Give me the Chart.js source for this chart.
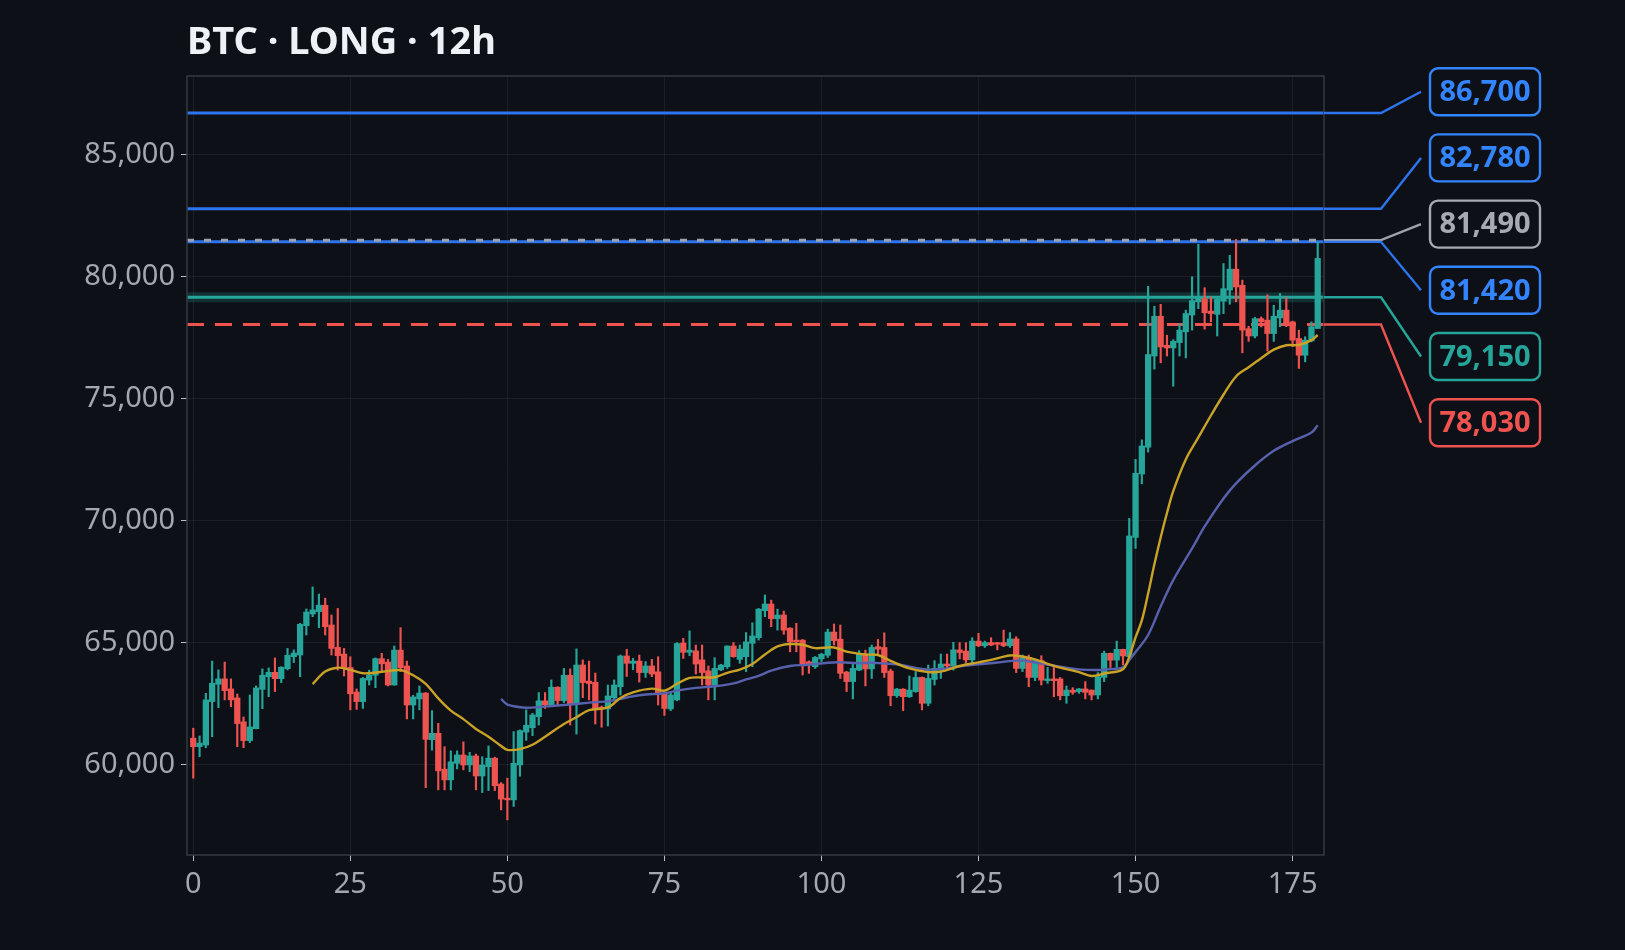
<!DOCTYPE html>
<html>
<head>
<meta charset="utf-8">
<title>BTC · LONG · 12h</title>
<script src="https://cdn.jsdelivr.net/npm/chart.js@4.4.1/dist/chart.umd.min.js"></script>
<style>
  html, body { margin: 0; padding: 0; background: #0d1017; }
  #wrap { position: relative; width: 1625px; height: 950px; }
</style>
</head>
<body>
<div id="wrap"><canvas id="chart"></canvas></div>
<script>
/**
 * BTC 12h long setup — candles, EMA 20/50 and trade levels
 * Candles are floating bars (body + wick), levels drawn by a small plugin
 */

// ============================================
// DATA
// ============================================
var opens = [
  61070,60720,60790,62570,63280,63500,63090,62720,61740,60970,
  61460,63070,63590,63770,63510,63920,64410,64480,65680,66160,
  66260,66520,65710,64790,64520,63970,62960,62570,63450,63650,
  64330,64190,63250,64680,64030,62430,62680,62920,61010,61270,
  59800,59360,60040,60380,59970,60340,59520,59900,60250,59190,
  58610,58540,59970,61320,61500,61950,62600,62430,63160,62610,
  63650,62460,64070,63410,63360,62340,62270,62730,63180,64440,
  64140,64230,63760,64030,63790,62910,62270,62640,64970,64590,
  64650,64280,63830,63250,63870,64000,64850,64300,64410,64960,
  65190,66300,66570,65970,66120,65580,65090,65090,64200,64000,
  64320,64470,65420,65130,63780,63390,63860,64510,63910,64820,
  64790,63820,62810,63080,62770,62980,63560,62500,63480,63860,
  64110,64030,64690,64640,64280,65050,64860,64990,64990,64990,
  64860,65140,63930,64380,63560,64250,63430,63500,63500,62810,
  63040,62980,63090,63040,62840,63560,64550,64270,64710,64410,
  69300,71900,73000,76740,78370,77180,77070,77290,77730,78420,
  78960,79090,78580,78450,78990,79440,80300,79640,77860,77560,
  78270,78210,77660,78300,78620,78140,77460,76770,77360,77870
];
var highs = [
  61480,61160,62910,64230,63870,64190,63500,62880,61940,62840,
  63210,63910,63950,64360,64000,64750,64690,65780,66370,67270,
  66980,66810,66120,66390,64750,64410,63090,63560,63860,64360,
  64550,64300,64850,65600,64230,62830,63210,62940,62200,61680,
  60720,60550,60550,60920,60490,60420,60310,60750,60290,59250,
  59430,61340,61410,62230,62090,62940,62940,63460,63180,63930,
  63910,64730,64280,64230,63740,62390,63250,63460,64480,64710,
  64340,64480,64210,64300,64410,62960,62910,64990,65160,65470,
  64890,64890,64030,64370,64100,64850,64990,64890,65400,65800,
  66390,66940,66730,66360,66280,65600,65780,65120,64240,64420,
  64550,65540,65750,65710,63810,64140,64660,64680,64890,65120,
  65390,63900,63110,63100,63620,63800,63580,64070,64250,64520,
  64520,65000,64990,64990,65190,65370,65050,65190,65000,65500,
  65400,65230,64480,64480,64250,64450,63970,63970,63560,63210,
  63140,63110,63390,63050,63760,64640,64560,65050,64720,70080,
  72500,73300,79600,78780,78860,77590,77410,78070,78620,79990,
  81320,79540,79160,79100,80530,80870,81520,79850,77960,78320,
  78340,79250,78820,79300,79140,78170,77800,77530,78140,81420
];
var lows = [
  59430,60310,60680,61130,62320,62640,62360,60720,60680,60890,
  61450,62280,62770,62980,63350,63870,64170,63590,65300,66050,
  65600,65300,64480,63860,63620,62230,62250,62290,63250,63140,
  63800,63210,63240,63800,61860,61860,62230,59040,60580,58950,
  58950,58950,59810,59770,59700,58950,58840,58920,58920,58130,
  57720,58270,59510,60980,61170,61610,62290,62400,62390,62530,
  61610,61240,62730,62640,61650,61520,61570,62610,62840,63600,
  63880,63370,63560,63590,62430,62000,62200,62600,64340,64450,
  63700,63250,62640,62640,63840,63930,64390,64140,63800,64000,
  65090,66050,65640,65500,65330,64610,64610,63660,63730,63930,
  64210,64380,64890,63520,62980,62680,63840,63210,63520,64520,
  63560,62400,62740,62200,62740,62950,62230,62400,63250,63520,
  63860,63860,64320,64140,64140,64820,64790,64860,64690,64820,
  64790,63760,63800,63180,63430,63250,63320,62770,62640,62500,
  62870,62910,62680,62640,62680,63390,63970,63970,64070,64380,
  68850,71500,72800,76200,76460,76740,75500,76740,76660,77800,
  78680,77840,78140,77560,78480,78860,78960,76870,77340,77480,
  77930,76940,77340,77940,77940,77120,76230,76500,77320,77860
];
var closes = [
  60720,60870,62640,63320,63500,63020,62640,61670,60970,61530,
  63130,63650,63770,63510,63980,64470,64560,65740,66240,66330,
  66520,65640,64750,64450,63930,62890,62570,63520,63660,64330,
  64120,63250,64680,63960,62430,62760,62920,61020,61270,59730,
  59360,60100,60380,59970,60340,59520,59970,60250,59120,58570,
  58540,60040,61380,61600,62020,62600,62430,63160,62610,63650,
  62460,64070,63350,63310,62270,62270,62800,63250,64440,64140,
  64230,63760,64030,63700,62910,62290,62840,64950,64590,64680,
  64110,63760,63250,63930,64070,64850,64410,64720,65020,65260,
  66360,66570,65970,66120,65500,65020,65020,64110,64110,64380,
  64510,65420,65070,63730,63390,63930,64510,63910,64790,64720,
  63760,62810,63080,62770,63040,63560,62500,63520,63930,64110,
  64030,64690,64580,64280,65050,64860,64990,64890,64920,64860,
  65140,63930,64380,63560,64250,63450,63500,63430,62810,63040,
  62950,63090,62950,62840,63590,64550,64270,64710,64440,69360,
  71930,73050,76800,78370,77110,77070,77340,77800,78480,79010,
  79160,78510,78480,79070,79500,80300,79570,77800,77560,78270,
  78140,77660,78370,78620,78070,77390,76770,77390,77940,80740
];

// EMA lines (bar index, price)
var ema20Idx = [19,21,23,25,27,29,31,33,35,37,39,41,43,45,47,49,50,52,54,56,
  59,61,63,66,68,70,73,75,77,79,81,83,85,87,89,91,93,95,97,99,
  102,104,107,109,111,114,117,119,122,125,127,130,132,134,136,138,141,143,145,148,
  149,150,151,152,153,154,155,156,158,160,162,164,166,168,170,172,174,176,178,179];
var ema20Val = [63290,63800,63960,63870,63730,63760,63820,63860,63650,63300,62700,62200,61850,61450,61130,60750,60590,60620,60800,61130,
  61650,61930,62220,62330,62720,62950,63100,63020,63300,63540,63560,63570,63750,63880,64110,64500,64830,64930,64900,64760,
  64790,64620,64500,64480,64240,63930,63780,63800,64030,64180,64280,64460,64420,64300,64120,63960,63780,63620,63720,63900,
  64410,65200,65900,67000,68200,69300,70300,71200,72500,73400,74300,75150,75900,76280,76650,77000,77180,77190,77390,77600];

var ema50Idx = [49,50,53,55,57,60,62,64,66,68,70,72,75,77,80,83,86,88,90,92,
  95,98,101,103,106,108,110,112,115,117,120,122,125,128,130,132,135,138,141,144,
  146,148,149,150,152,154,156,159,161,164,166,169,172,175,178,179];
var ema50Val = [62680,62450,62320,62350,62390,62450,62500,62550,62580,62680,62790,62860,62910,63020,63130,63200,63320,63480,63620,63840,
  64030,64080,64165,64180,64140,64165,64130,64100,63950,63880,63930,64020,64100,64170,64230,64250,64130,64000,63890,63865,
  63900,63970,64270,64600,65300,66470,67550,68850,69750,70900,71520,72250,72850,73250,73600,73900];

// Trade levels, top to bottom
var levelValues = [86700, 82780, 81490, 81420, 79150, 78030];
var levelLabels = ['86,700', '82,780', '81,490', '81,420', '79,150', '78,030'];
var levelKinds  = ['target', 'target', 'mark', 'target', 'entry', 'stop'];

var xTicks = [0, 25, 50, 75, 100, 125, 150, 175];
var yTicks = [60000, 65000, 70000, 75000, 80000, 85000];

var TITLE = 'BTC · LONG · 12h';

// ============================================
// STYLE
// ============================================
var BG = '#0d1017';
var UP = '#26a69a';
var DOWN = '#ef5350';
var FONT = "'Noto Sans', 'Open Sans', sans-serif";

var levelStyle = {
  target: { line: '#2d74ee', text: '#3385ff', width: 3, dash: [] },
  mark:   { line: '#9ea3aa', text: '#a6abb2', width: 3, dash: [7, 10] },
  entry:  { line: '#26a69a', text: '#26a69a', width: 3, dash: [], glow: 'rgba(38, 166, 154, 0.22)' },
  stop:   { line: '#ef5350', text: '#ef5350', width: 3, dash: [17, 11] }
};

// ============================================
// BUILD DATASETS
// ============================================
var bodies = [], wicks = [], colors = [];
for (var i = 0; i < opens.length; i++) {
  bodies.push({ x: i, y: [opens[i], closes[i]] });
  wicks.push({ x: i, y: [lows[i], highs[i]] });
  colors.push(closes[i] >= opens[i] ? UP : DOWN);
}

function toPoints(idx, vals) {
  return idx.map(function (x, k) { return { x: x, y: vals[k] }; });
}

// ============================================
// PLUGIN — title, frame, trade levels + labels
// ============================================
var levelsPlugin = {
  id: 'levels',
  beforeDatasetsDraw: function (chart) {
    var ctx = chart.ctx, area = chart.chartArea, y = chart.scales.y;
    // solid lines first, dashed ones on top
    var order = levelValues.map(function (v, k) { return k; }).sort(function (a, b) {
      return levelStyle[levelKinds[a]].dash.length - levelStyle[levelKinds[b]].dash.length;
    });
    ctx.save();
    order.forEach(function (k) {
      var st = levelStyle[levelKinds[k]];
      var py = y.getPixelForValue(levelValues[k]);
      if (st.glow) {
        ctx.strokeStyle = st.glow;
        ctx.lineWidth = 10;
        ctx.setLineDash([]);
        ctx.beginPath(); ctx.moveTo(area.left, py); ctx.lineTo(area.right, py); ctx.stroke();
      }
      ctx.strokeStyle = st.line;
      ctx.lineWidth = st.width;
      ctx.setLineDash(st.dash);
      ctx.beginPath(); ctx.moveTo(area.left, py); ctx.lineTo(area.right, py); ctx.stroke();
    });
    ctx.restore();
  },
  afterDraw: function (chart) {
    var ctx = chart.ctx, area = chart.chartArea, y = chart.scales.y;
    ctx.save();

    // frame around the plot
    ctx.strokeStyle = '#353a43';
    ctx.lineWidth = 1.5;
    ctx.strokeRect(area.left, area.top, area.right - area.left, area.bottom - area.top);

    // title
    ctx.fillStyle = '#eef1f6';
    ctx.font = 'bold 38px ' + FONT;
    ctx.textBaseline = 'alphabetic';
    ctx.textAlign = 'left';
    ctx.fillText(TITLE, area.left, 54);

    // leaders + label boxes
    var knee = area.right + 57, end = area.right + 97;
    var boxX = area.right + 106, boxW = 110, boxH = 47;
    var firstCy = 91.7, step = 66.2;
    levelValues.forEach(function (v, k) {
      var st = levelStyle[levelKinds[k]];
      var py = y.getPixelForValue(v);
      var cy = firstCy + k * step;
      ctx.setLineDash([]);
      ctx.strokeStyle = st.line;
      ctx.lineWidth = 2.4;
      ctx.beginPath();
      ctx.moveTo(area.right, py);
      ctx.lineTo(knee, py);
      ctx.lineTo(end, cy);
      ctx.stroke();

      ctx.beginPath();
      ctx.roundRect(boxX, cy - boxH / 2, boxW, boxH, 8);
      ctx.fillStyle = BG;
      ctx.fill();
      ctx.strokeStyle = st.text;
      ctx.stroke();

      ctx.fillStyle = st.text;
      ctx.font = 'bold 29px ' + FONT;
      ctx.textAlign = 'center';
      ctx.textBaseline = 'middle';
      ctx.fillText(levelLabels[k], boxX + boxW / 2, cy + 1);
    });
    ctx.restore();
  }
};

// ============================================
// CHART
// ============================================
var tickFont = { family: FONT, size: 29 };

new Chart(document.getElementById('chart'), {
  type: 'bar',
  data: {
    datasets: [
      {
        type: 'line', label: 'EMA 20', data: toPoints(ema20Idx, ema20Val),
        borderColor: '#c9a227', borderWidth: 2.4, pointRadius: 0, tension: 0.35, order: 0
      },
      {
        type: 'line', label: 'EMA 50', data: toPoints(ema50Idx, ema50Val),
        borderColor: '#5861ad', borderWidth: 2.4, pointRadius: 0, tension: 0.35, order: 0
      },
      {
        label: 'body', data: bodies, backgroundColor: colors,
        barThickness: 5.6, minBarLength: 1.5, grouped: false, order: 1
      },
      {
        label: 'wick', data: wicks, backgroundColor: colors,
        barThickness: 1.5, grouped: false, order: 2
      }
    ]
  },
  options: {
    responsive: true,
    maintainAspectRatio: false,
    animation: false,
    layout: { padding: { top: 76, right: 301, bottom: 0, left: 0 } },
    plugins: { legend: { display: false }, tooltip: { enabled: false } },
    scales: {
      x: {
        type: 'linear', min: -1, max: 180, offset: false,
        afterBuildTicks: function (s) { s.ticks = xTicks.map(function (v) { return { value: v }; }); },
        afterFit: function (s) { s.height = 95; },
        ticks: { color: '#a3a8b0', font: tickFont, padding: 6, maxRotation: 0 },
        grid: { offset: false, color: 'rgba(255,255,255,0.06)', tickColor: '#b8bcc3', tickLength: 6 },
        border: { display: false }
      },
      y: {
        type: 'linear', min: 56280, max: 88220,
        afterBuildTicks: function (s) { s.ticks = yTicks.map(function (v) { return { value: v }; }); },
        afterFit: function (s) { s.width = 187; },
        ticks: {
          color: '#a3a8b0', font: tickFont, padding: 6,
          callback: function (v) { return v.toLocaleString('en-US'); }
        },
        grid: { color: 'rgba(255,255,255,0.06)', tickColor: '#b8bcc3', tickLength: 6 },
        border: { display: false }
      }
    }
  },
  plugins: [levelsPlugin]
});
</script>
</body>
</html>
